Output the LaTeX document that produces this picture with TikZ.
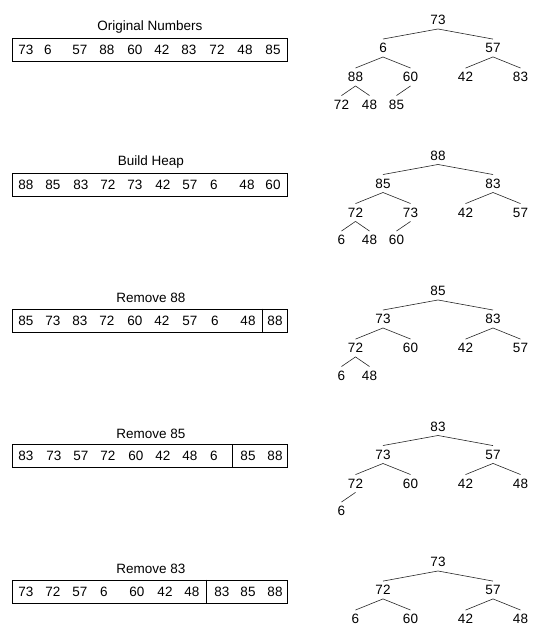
\documentclass[tikz,border=0pt]{standalone}
\usepackage{fontspec}
\setmainfont{Liberation Sans}
\begin{document}
\begin{tikzpicture}[x=1pt,y=-1pt,
 lbl/.style={font=\fontsize{13.5}{16}\selectfont, inner sep=0pt},
 num/.style={font=\fontsize{13.5}{16}\selectfont, inner sep=0pt},
 tn/.style={font=\fontsize{13.5}{16}\selectfont, inner sep=4pt},
 edge/.style={line width=0.6pt, draw=black!85},
 arr/.style={draw, line width=0.8pt},
 box/.style={arr, minimum width=275pt, minimum height=23pt, inner sep=0pt}]
\useasboundingbox (0,0) rectangle (542,632);

% ---------- Row 0 ----------
\begin{scope}
\node[lbl] (t0) at (150,27) {Original Numbers};
\node[box] (b0) at (149.5,49.5) {};
\foreach \x/\t [count=\i] in {26/73,48/6,80/57,107/88,135/60,162/42,189/83,217/72,245/48,273/85}
  \node[num] (r0n\i) at (\x,49.5) {\t};
\node[tn] (p0r) at (438,20) {73};
\node[tn] (p0a) at (383,48) {6};
\node[tn] (p0b) at (493,48) {57};
\node[tn] (p0aa) at (355.5,77) {88};
\node[tn] (p0ab) at (410.5,77) {60};
\node[tn] (p0ba) at (465.5,77) {42};
\node[tn] (p0bb) at (520.5,77) {83};
\node[tn] (p0aaa) at (341.5,104.5) {72};
\node[tn] (p0aab) at (369.5,104.5) {48};
\node[tn] (p0aba) at (396.5,104.5) {85};
\draw[edge] (p0r.south) -- (p0a.north);
\draw[edge] (p0r.south) -- (p0b.north);
\draw[edge] (p0a.south) -- (p0aa.north);
\draw[edge] (p0a.south) -- (p0ab.north);
\draw[edge] (p0b.south) -- (p0ba.north);
\draw[edge] (p0b.south) -- (p0bb.north);
\draw[edge] (p0aa.south) -- (p0aaa.north);
\draw[edge] (p0aa.south) -- (p0aab.north);
\draw[edge] (p0ab.south) -- (p0aba.north);
\end{scope}

% ---------- Row 1 ----------
\begin{scope}[shift={(0,135.5)}]
\node[lbl] (t1) at (151,27) {Build Heap};
\node[box] (b1) at (149.5,49.5) {};
\foreach \x/\t [count=\i] in {26/88,53/85,81/83,108/72,135/73,163/42,190/57,214/6,247/48,273/60}
  \node[num] (r1n\i) at (\x,49.5) {\t};
\node[tn] (p1r) at (438,20) {88};
\node[tn] (p1a) at (383,48) {85};
\node[tn] (p1b) at (493,48) {83};
\node[tn] (p1aa) at (355.5,77) {72};
\node[tn] (p1ab) at (410.5,77) {73};
\node[tn] (p1ba) at (465.5,77) {42};
\node[tn] (p1bb) at (520.5,77) {57};
\node[tn] (p1aaa) at (341.5,104.5) {6};
\node[tn] (p1aab) at (369.5,104.5) {48};
\node[tn] (p1aba) at (396.5,104.5) {60};
\draw[edge] (p1r.south) -- (p1a.north);
\draw[edge] (p1r.south) -- (p1b.north);
\draw[edge] (p1a.south) -- (p1aa.north);
\draw[edge] (p1a.south) -- (p1ab.north);
\draw[edge] (p1b.south) -- (p1ba.north);
\draw[edge] (p1b.south) -- (p1bb.north);
\draw[edge] (p1aa.south) -- (p1aaa.north);
\draw[edge] (p1aa.south) -- (p1aab.north);
\draw[edge] (p1ab.south) -- (p1aba.north);
\end{scope}

% ---------- Row 2 ----------
\begin{scope}[shift={(0,271)}]
\node[lbl] (t2) at (151,27) {Remove 88};
\node[box] (b2) at (149.5,49.5) {};
\foreach \x/\t [count=\i] in {26/85,53/73,80/83,107/72,135/60,162/42,190/57,215/6,248/48,275/88}
  \node[num] (r2n\i) at (\x,49.5) {\t};
\coordinate (d2) at (262,49.5);
\draw[arr] (b2.north -| d2) -- (b2.south -| d2);
\node[tn] (p2r) at (438,20) {85};
\node[tn] (p2a) at (383,48) {73};
\node[tn] (p2b) at (493,48) {83};
\node[tn] (p2aa) at (355.5,77) {72};
\node[tn] (p2ab) at (410.5,77) {60};
\node[tn] (p2ba) at (465.5,77) {42};
\node[tn] (p2bb) at (520.5,77) {57};
\node[tn] (p2aaa) at (341.5,104.5) {6};
\node[tn] (p2aab) at (369.5,104.5) {48};
\draw[edge] (p2r.south) -- (p2a.north);
\draw[edge] (p2r.south) -- (p2b.north);
\draw[edge] (p2a.south) -- (p2aa.north);
\draw[edge] (p2a.south) -- (p2ab.north);
\draw[edge] (p2b.south) -- (p2ba.north);
\draw[edge] (p2b.south) -- (p2bb.north);
\draw[edge] (p2aa.south) -- (p2aaa.north);
\draw[edge] (p2aa.south) -- (p2aab.north);
\end{scope}

% ---------- Row 3 ----------
\begin{scope}[shift={(0,406.5)}]
\node[lbl] (t3) at (151,27) {Remove 85};
\node[box] (b3) at (149.5,49.5) {};
\foreach \x/\t [count=\i] in {26/83,54/73,81/57,108/72,136/60,163/42,190/48,214/6,248/85,275/88}
  \node[num] (r3n\i) at (\x,49.5) {\t};
\coordinate (d3) at (232,49.5);
\draw[arr] (b3.north -| d3) -- (b3.south -| d3);
\node[tn] (p3r) at (438,20) {83};
\node[tn] (p3a) at (383,48) {73};
\node[tn] (p3b) at (493,48) {57};
\node[tn] (p3aa) at (355.5,77) {72};
\node[tn] (p3ab) at (410.5,77) {60};
\node[tn] (p3ba) at (465.5,77) {42};
\node[tn] (p3bb) at (520.5,77) {48};
\node[tn] (p3aaa) at (341.5,104.5) {6};
\draw[edge] (p3r.south) -- (p3a.north);
\draw[edge] (p3r.south) -- (p3b.north);
\draw[edge] (p3a.south) -- (p3aa.north);
\draw[edge] (p3a.south) -- (p3ab.north);
\draw[edge] (p3b.south) -- (p3ba.north);
\draw[edge] (p3b.south) -- (p3bb.north);
\draw[edge] (p3aa.south) -- (p3aaa.north);
\end{scope}

% ---------- Row 4 ----------
\begin{scope}[shift={(0,542)}]
\node[lbl] (t4) at (151,27) {Remove 83};
\node[box] (b4) at (149.5,49.5) {};
\foreach \x/\t [count=\i] in {26/73,53/72,80/57,104/6,137/60,165/42,192/48,222/83,248/85,275/88}
  \node[num] (r4n\i) at (\x,49.5) {\t};
\coordinate (d4) at (206,49.5);
\draw[arr] (b4.north -| d4) -- (b4.south -| d4);
\node[tn] (p4r) at (438,20) {73};
\node[tn] (p4a) at (383,48) {72};
\node[tn] (p4b) at (493,48) {57};
\node[tn] (p4aa) at (355.5,77) {6};
\node[tn] (p4ab) at (410.5,77) {60};
\node[tn] (p4ba) at (465.5,77) {42};
\node[tn] (p4bb) at (520.5,77) {48};
\draw[edge] (p4r.south) -- (p4a.north);
\draw[edge] (p4r.south) -- (p4b.north);
\draw[edge] (p4a.south) -- (p4aa.north);
\draw[edge] (p4a.south) -- (p4ab.north);
\draw[edge] (p4b.south) -- (p4ba.north);
\draw[edge] (p4b.south) -- (p4bb.north);
\end{scope}
\end{tikzpicture}
\end{document}
